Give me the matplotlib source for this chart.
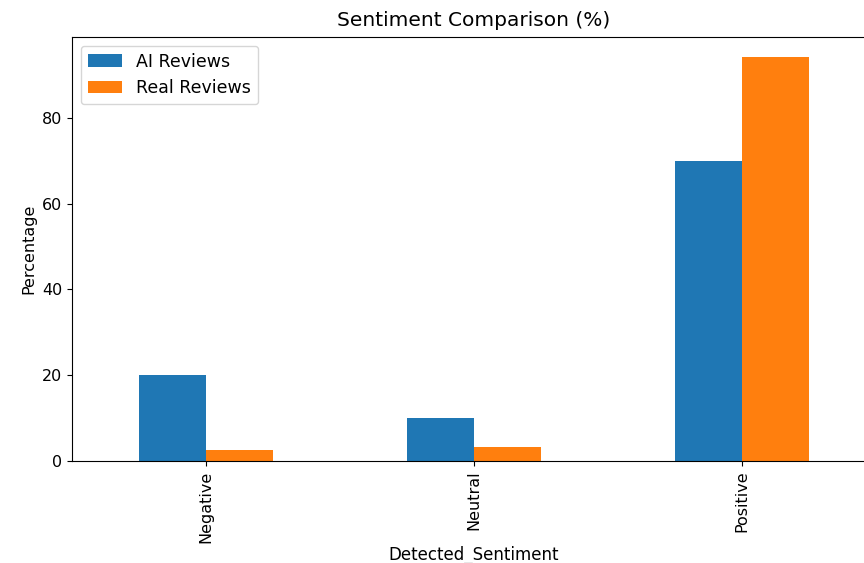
import matplotlib
matplotlib.use("Agg")
import matplotlib.pyplot as plt
import pandas as pd

sentiments = ["Negative", "Neutral", "Positive"]
ai_pct = [20.0, 10.0, 70.0]
real_pct = [2.6, 3.3, 94.1]

df = pd.DataFrame({"AI Reviews": ai_pct, "Real Reviews": real_pct},
                  index=pd.Index(sentiments, name="Detected_Sentiment"))

fig = plt.figure(figsize=(8.64, 5.63), dpi=100)
# axes run a little past the right edge of the canvas
ax = fig.add_axes([72 / 864, 102 / 563, 804 / 864, 424 / 563])
df.plot(kind="bar", ax=ax, fontsize=11.5)
ax.set_title("Sentiment Comparison (%)", fontsize=14.5, pad=8)
ax.set_ylabel("Percentage", fontsize=11.5)
ax.set_xlabel("Detected_Sentiment", fontsize=12, labelpad=2)
ax.legend(fontsize=12.5)
fig.savefig("out.png", dpi=100)
